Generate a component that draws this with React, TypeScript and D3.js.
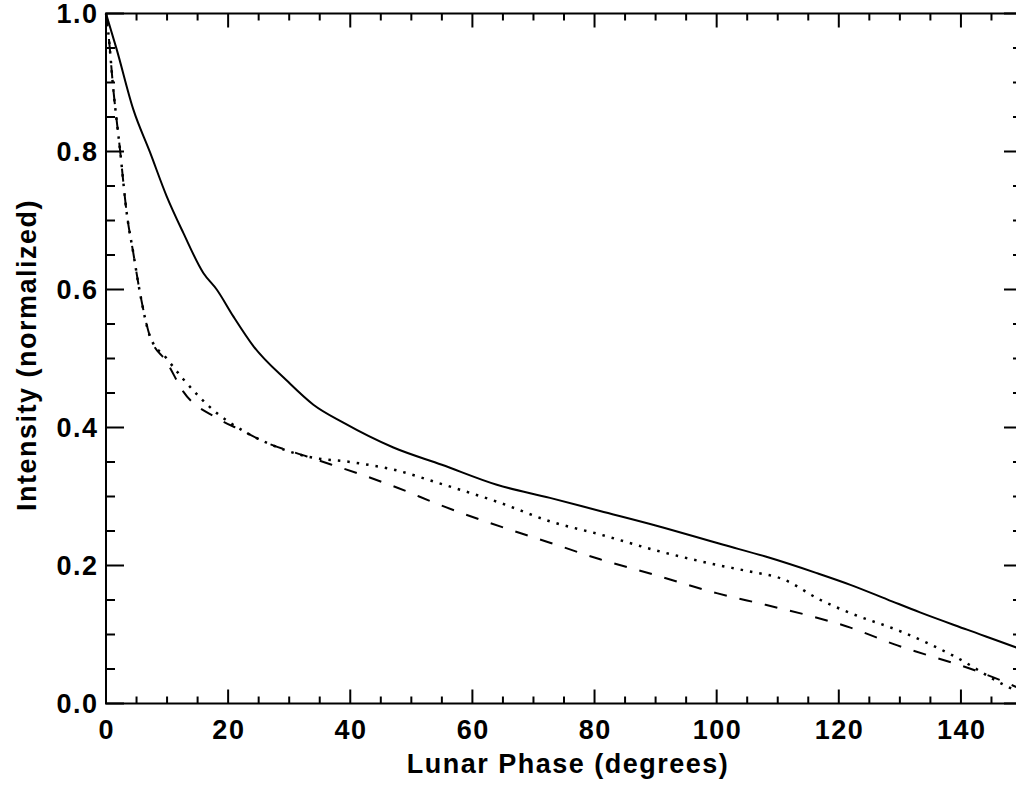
import * as d3 from "d3";
import { useEffect, useRef } from "react";

// values (phase in degrees, normalized intensity)
const solidPhase = [0, 1.75, 4.47, 7.2, 9.94, 12.66, 15.94, 18.13, 20.85, 24.13, 29.6, 33.96, 38.87, 47.06, 55, 64, 72.7, 80.9, 90, 101.1, 108, 116.4, 121.9, 127.9, 133.3, 141, 149.1, 150];
const solidValue = [1.0, 0.948, 0.861, 0.799, 0.735, 0.682, 0.624, 0.6, 0.561, 0.518, 0.468, 0.433, 0.407, 0.371, 0.346, 0.317, 0.298, 0.279, 0.258, 0.23, 0.213, 0.189, 0.172, 0.151, 0.132, 0.107, 0.081, 0.078];

const dottedPhase = [0, 0.38, 1.2, 2.29, 3.39, 4.47, 5.57, 7.2, 9.94, 12.66, 18.13, 22.5, 26.3, 32.9, 40, 47.06, 55, 64.5, 72.7, 80.9, 90, 100, 105, 110.9, 117, 121.9, 130, 138.8, 147.5, 150];
const dottedValue = [1.0, 0.972, 0.89, 0.803, 0.711, 0.653, 0.595, 0.532, 0.5, 0.47, 0.421, 0.395, 0.378, 0.358, 0.35, 0.339, 0.318, 0.291, 0.264, 0.245, 0.222, 0.201, 0.192, 0.18, 0.15, 0.131, 0.105, 0.069, 0.025, 0.015];

const dashedPhase = [0, 0.38, 1.2, 2.29, 3.39, 4.47, 5.57, 7.2, 9.94, 12.66, 18.13, 21.9, 26.3, 32.9, 42.7, 47.06, 55.2, 67.8, 72.7, 80.9, 90, 100, 108, 115.3, 121.9, 129, 142.6, 147.5, 150];
const dashedValue = [1.0, 0.972, 0.89, 0.803, 0.711, 0.653, 0.595, 0.532, 0.495, 0.452, 0.414, 0.397, 0.378, 0.358, 0.329, 0.315, 0.286, 0.247, 0.233, 0.209, 0.186, 0.16, 0.143, 0.127, 0.11, 0.086, 0.047, 0.03, 0.02];

const xMajor = [0, 20, 40, 60, 80, 100, 120, 140];
const yMajor = [0.0, 0.2, 0.4, 0.6, 0.8, 1.0];

const FONT = "'Liberation Sans', Arial, Helvetica, sans-serif";

export default function App() {
  const svgRef = useRef<SVGSVGElement>(null);
  const width = 1016;
  const height = 785;
  const plot = { left: 106, right: 1022, top: 13.5, bottom: 703.5 };

  useEffect(() => {
    const svg = d3.select(svgRef.current);
    svg.selectAll("*").remove();

    const x = d3.scaleLinear().domain([0, 150]).range([plot.left, plot.right]);
    const y = d3.scaleLinear().domain([0, 1]).range([plot.bottom, plot.top]);

    const line = d3.line<[number, number]>()
      .x(d => x(d[0]))
      .y(d => y(d[1]))
      .curve(d3.curveMonotoneX);

    const series = [
      { xs: solidPhase, ys: solidValue, dash: null, w: 2 },
      { xs: dottedPhase, ys: dottedValue, dash: "2.5,7", w: 2.5 },
      { xs: dashedPhase, ys: dashedValue, dash: "13,13", w: 2 },
    ];

    series.forEach(s => {
      const pts = s.xs.map((v, i) => [v, s.ys[i]] as [number, number]);
      svg.append("path")
        .attr("d", line(pts))
        .attr("fill", "none")
        .attr("stroke", "#000")
        .attr("stroke-width", s.w)
        .attr("stroke-dasharray", s.dash);
    });

    // ticks (inward, on all four sides)
    const g = svg.append("g").attr("stroke", "#000").attr("stroke-width", 2);
    const xMinor = d3.range(0, 151, 5).filter(v => v % 20 !== 0);
    const yMinor = d3.range(0, 1.001, 0.05).filter(v => Math.abs(v * 5 - Math.round(v * 5)) > 1e-6);

    xMajor.forEach(v => {
      g.append("line").attr("x1", x(v)).attr("x2", x(v)).attr("y1", plot.bottom).attr("y2", plot.bottom - 14);
      g.append("line").attr("x1", x(v)).attr("x2", x(v)).attr("y1", plot.top).attr("y2", plot.top + 14);
    });
    xMinor.forEach(v => {
      g.append("line").attr("x1", x(v)).attr("x2", x(v)).attr("y1", plot.bottom).attr("y2", plot.bottom - 7);
      g.append("line").attr("x1", x(v)).attr("x2", x(v)).attr("y1", plot.top).attr("y2", plot.top + 7);
    });
    yMajor.forEach(v => {
      g.append("line").attr("y1", y(v)).attr("y2", y(v)).attr("x1", plot.left).attr("x2", plot.left + 18);
      g.append("line").attr("y1", y(v)).attr("y2", y(v)).attr("x1", plot.right).attr("x2", plot.right - 18);
    });
    yMinor.forEach(v => {
      g.append("line").attr("y1", y(v)).attr("y2", y(v)).attr("x1", plot.left).attr("x2", plot.left + 9);
      g.append("line").attr("y1", y(v)).attr("y2", y(v)).attr("x1", plot.right).attr("x2", plot.right - 9);
    });

    // frame
    svg.append("rect")
      .attr("x", plot.left).attr("y", plot.top)
      .attr("width", plot.right - plot.left).attr("height", plot.bottom - plot.top)
      .attr("fill", "none").attr("stroke", "#000").attr("stroke-width", 2);

    const txt = svg.append("g")
      .attr("font-family", FONT)
      .attr("font-weight", "bold")
      .attr("font-size", 27)
      .attr("letter-spacing", "1.5px")
      .attr("fill", "#000");

    xMajor.forEach(v => {
      txt.append("text").attr("x", x(v) + 0.75).attr("y", 739).attr("text-anchor", "middle").text(d3.format("d")(v));
    });
    yMajor.forEach(v => {
      txt.append("text").attr("x", 98.5).attr("y", y(v)).attr("dy", "0.36em").attr("text-anchor", "end").text(d3.format(".1f")(v));
    });

    txt.append("text")
      .attr("x", 568).attr("y", 773)
      .attr("text-anchor", "middle")
      .text("Lunar Phase (degrees)");

    txt.append("text")
      .attr("transform", `translate(36,355) rotate(-90)`)
      .attr("text-anchor", "middle")
      .text("Intensity (normalized)");
  }, []);

  return (
    <svg
      ref={svgRef}
      width={width}
      height={height}
      style={{ position: "absolute", left: 0, top: 0, background: "#fff" }}
    />
  );
}
